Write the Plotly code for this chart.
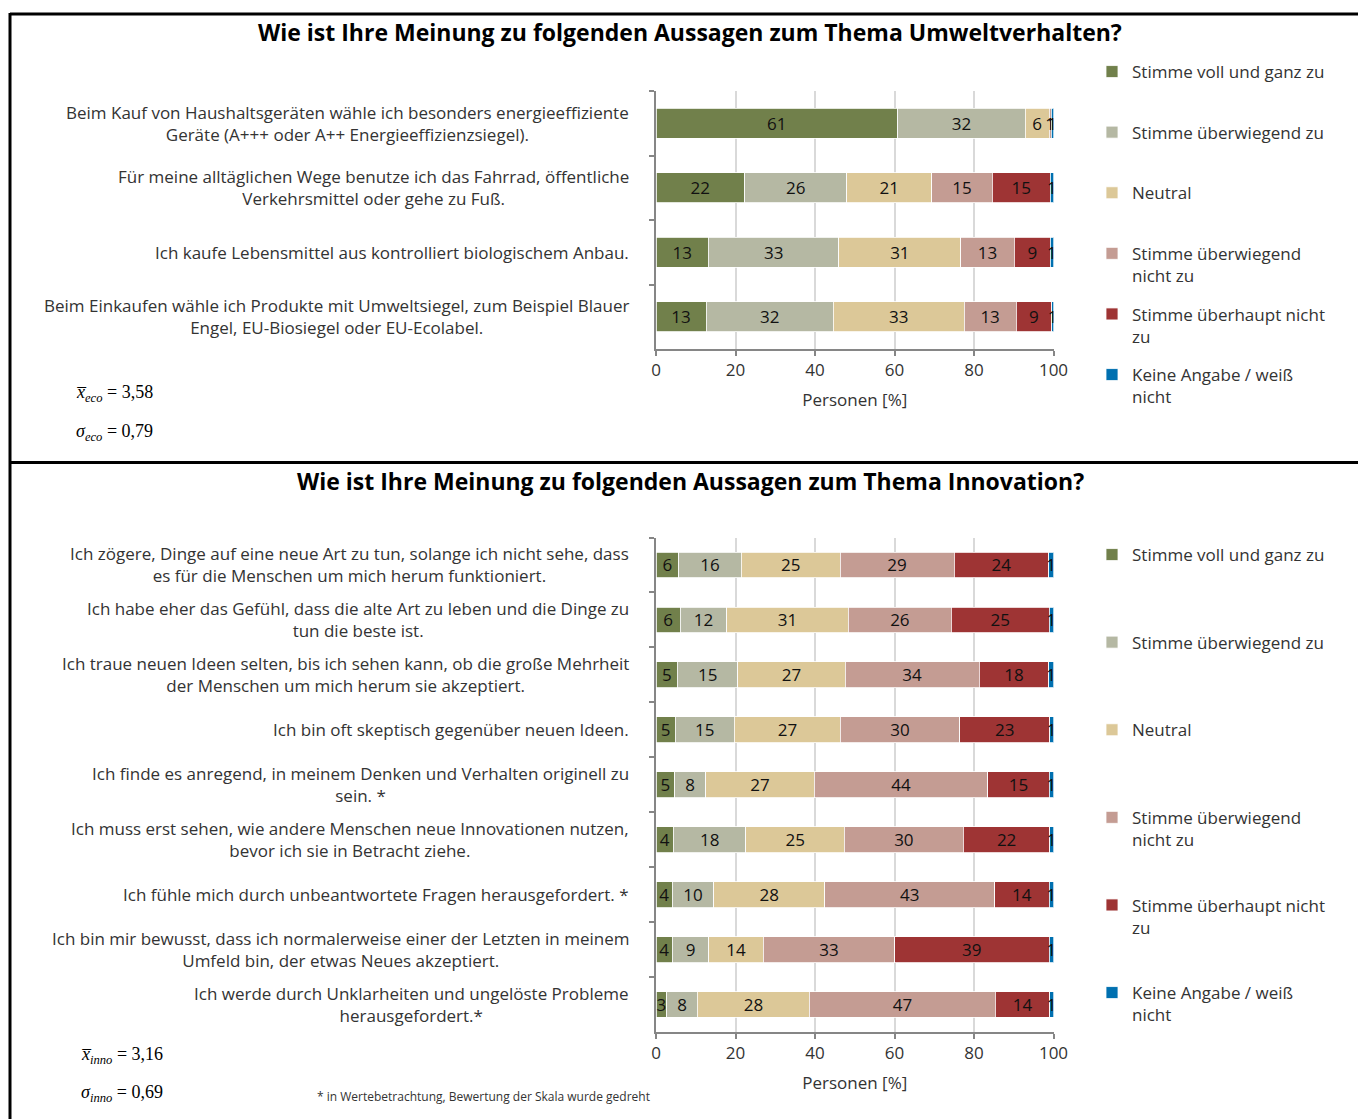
import plotly.graph_objects as go

W, H = 1358, 1119

# ---------------- data ----------------
series_names = [
    "Stimme voll und ganz zu",
    "Stimme überwiegend zu",
    "Neutral",
    "Stimme überwiegend<br>nicht zu",
    "Stimme überhaupt nicht<br>zu",
    "Keine Angabe / weiß<br>nicht",
]
series_colors = ["#71804b", "#b5b8a3", "#dcc898", "#c49c93", "#9e3434", "#0070b0"]

env_categories = [
    "Beim Kauf von Haushaltsgeräten wähle ich besonders energieeffiziente<br>Geräte (A+++ oder A++ Energieeffizienzsiegel).",
    "Für meine alltäglichen Wege benutze ich das Fahrrad, öffentliche<br>Verkehrsmittel oder gehe zu Fuß.",
    "Ich kaufe Lebensmittel aus kontrolliert biologischem Anbau.",
    "Beim Einkaufen wähle ich Produkte mit Umweltsiegel, zum Beispiel Blauer<br>Engel, EU-Biosiegel oder EU-Ecolabel.",
]
env_voll = [60.8, 22.3, 13.2, 12.6]
env_ueberwiegend = [32.1, 25.7, 32.8, 32.0]
env_neutral = [6.0, 21.4, 30.7, 32.9]
env_ueberwiegend_nicht = [0.5, 15.2, 13.4, 13.1]
env_ueberhaupt_nicht = [0.0, 14.6, 9.1, 8.9]
env_keine_angabe = [0.6, 0.8, 0.8, 0.5]

inno_categories = [
    "Ich zögere, Dinge auf eine neue Art zu tun, solange ich nicht sehe, dass<br>es für die Menschen um mich herum funktioniert.",
    "Ich habe eher das Gefühl, dass die alte Art zu leben und die Dinge zu<br>tun die beste ist.",
    "Ich traue neuen Ideen selten, bis ich sehen kann, ob die große Mehrheit<br>der Menschen um mich herum sie akzeptiert.",
    "Ich bin oft skeptisch gegenüber neuen Ideen.",
    "Ich finde es anregend, in meinem Denken und Verhalten originell zu<br>sein. *",
    "Ich muss erst sehen, wie andere Menschen neue Innovationen nutzen,<br>bevor ich sie in Betracht ziehe.",
    "Ich fühle mich durch unbeantwortete Fragen herausgefordert. *",
    "Ich bin mir bewusst, dass ich normalerweise einer der Letzten in meinem<br>Umfeld bin, der etwas Neues akzeptiert.",
    "Ich werde durch Unklarheiten und ungelöste Probleme<br>herausgefordert.*",
]
inno_voll = [5.7, 6.1, 5.4, 4.8, 4.7, 4.4, 4.1, 4.1, 2.7]
inno_ueberwiegend = [15.8, 11.7, 15.2, 14.9, 7.8, 18.2, 10.4, 9.2, 7.7]
inno_neutral = [24.8, 30.6, 27.0, 26.7, 27.3, 24.8, 28.0, 13.7, 28.2]
inno_ueberwiegend_nicht = [28.7, 25.9, 33.7, 30.0, 43.7, 29.9, 42.7, 33.0, 46.8]
inno_ueberhaupt_nicht = [23.8, 24.6, 17.5, 22.7, 15.4, 21.8, 13.7, 38.9, 13.7]
inno_keine_angabe = [1.2, 1.1, 1.2, 0.9, 1.1, 0.9, 1.1, 1.1, 0.9]

x_ticks = [0, 20, 40, 60, 80, 100]
x_title = "Personen [%]"
title_env = "Wie ist Ihre Meinung zu folgenden Aussagen zum Thema Umweltverhalten?"
title_inno = "Wie ist Ihre Meinung zu folgenden Aussagen zum Thema Innovation?"
stats_env = ["3,58", "0,79"]
stats_inno = ["3,16", "0,69"]
footnote = "* in Wertebetrachtung, Bewertung der Skala wurde gedreht"

env_series = [env_voll, env_ueberwiegend, env_neutral, env_ueberwiegend_nicht,
              env_ueberhaupt_nicht, env_keine_angabe]
inno_series = [inno_voll, inno_ueberwiegend, inno_neutral, inno_ueberwiegend_nicht,
               inno_ueberhaupt_nicht, inno_keine_angabe]

# ---------------- helpers ----------------
FONT = "Open Sans"
TXT = "#333333"
FS = 17


def px_x(p):
    return p / W


def px_y(p):
    return (H - p) / H


def labels(vals):
    return [str(int(v + 0.5)) if v >= 0.5 else "" for v in vals]


fig = go.Figure()

for i, name in enumerate(series_names):
    legend_name = name if "<br>" in name else name + "<br>\u00a0"
    fig.add_trace(go.Bar(
        x=env_series[i], y=env_categories, orientation="h",
        xaxis="x", yaxis="y", name=legend_name,
        marker=dict(color=series_colors[i], line=dict(color="white", width=0.8)),
        text=labels(env_series[i]), textposition="inside", textangle=0,
        insidetextanchor="middle",
        textfont=dict(family=FONT, size=FS, color="#111111"),
        legend="legend", legendgroup="env%d" % i, showlegend=True,
        hoverinfo="x+y",
    ))
for i, name in enumerate(series_names):
    legend_name = name if "<br>" in name else name + "<br>\u00a0"
    fig.add_trace(go.Bar(
        x=inno_series[i], y=inno_categories, orientation="h",
        xaxis="x2", yaxis="y2", name=legend_name,
        marker=dict(color=series_colors[i], line=dict(color="white", width=0.8)),
        text=labels(inno_series[i]), textposition="inside", textangle=0,
        insidetextanchor="middle",
        textfont=dict(family=FONT, size=FS, color="#111111"),
        legend="legend2", legendgroup="inno%d" % i, showlegend=True,
        hoverinfo="x+y",
    ))

x_dom = [px_x(656), px_x(1053.5)]
top_dom = [px_y(349), px_y(91)]
bot_dom = [px_y(1032), px_y(537.5)]

xaxis_common = dict(
    range=[0, 100], tickvals=x_ticks, ticks="outside", ticklen=5,
    tickcolor="#868686", tickwidth=1.5, showline=True, linecolor="#868686",
    linewidth=1.5, showgrid=True, gridcolor="#d9d9d9", gridwidth=2,
    zeroline=False, tickfont=dict(family=FONT, size=FS, color=TXT),
    title=dict(text=x_title, font=dict(family=FONT, size=FS, color=TXT), standoff=14),
    fixedrange=True,
)
yaxis_common = dict(
    autorange="reversed", type="category", showticklabels=False,
    ticks="outside", ticklen=5, tickcolor="#868686", tickwidth=1.5,
    tickson="boundaries", showline=True, linecolor="#868686", linewidth=1.5,
    showgrid=False, fixedrange=True,
)

fig.update_layout(
    autosize=True, margin=dict(l=0, r=0, t=0, b=0, autoexpand=False),
    paper_bgcolor="white", plot_bgcolor="white",
    barmode="stack", bargap=0.53,
    uniformtext=dict(minsize=FS, mode="show"),
    xaxis=dict(domain=x_dom, anchor="y", **xaxis_common),
    yaxis=dict(domain=top_dom, anchor="x", **yaxis_common),
    xaxis2=dict(domain=x_dom, anchor="y2", **xaxis_common),
    yaxis2=dict(domain=bot_dom, anchor="x2", **yaxis_common),
    legend=dict(
        x=px_x(1092), y=px_y(54), xanchor="left", yanchor="top",
        traceorder="grouped", tracegroupgap=13.4, valign="top",
        font=dict(family=FONT, size=FS, color=TXT), bgcolor="rgba(0,0,0,0)",
    ),
    legend2=dict(
        x=px_x(1092), y=px_y(537), xanchor="left", yanchor="top",
        traceorder="grouped", tracegroupgap=40.4, valign="top",
        font=dict(family=FONT, size=FS, color=TXT), bgcolor="rgba(0,0,0,0)",
    ),
    hovermode="closest",
)

annotations = []
# category labels, centred lines, right edge 25px left of the axis
for cat in env_categories:
    annotations.append(dict(
        text=cat, x=px_x(631), xref="paper", xanchor="right", y=cat, yref="y",
        yanchor="middle", align="center", showarrow=False,
        font=dict(family=FONT, size=FS, color=TXT),
    ))
for cat in inno_categories:
    annotations.append(dict(
        text=cat, x=px_x(631), xref="paper", xanchor="right", y=cat, yref="y2",
        yanchor="middle", align="center", showarrow=False,
        font=dict(family=FONT, size=FS, color=TXT),
    ))

# titles
annotations.append(dict(text="<b>%s</b>" % title_env, x=px_x(690), y=px_y(32),
                        xref="paper", yref="paper", xanchor="center", yanchor="middle",
                        showarrow=False, font=dict(family=FONT, size=23, color="black")))
annotations.append(dict(text="<b>%s</b>" % title_inno, x=px_x(690), y=px_y(481),
                        xref="paper", yref="paper", xanchor="center", yanchor="middle",
                        showarrow=False, font=dict(family=FONT, size=23, color="black")))

SERIF = "Liberation Serif"
def stat(text, x, y):
    return dict(text=text, x=px_x(x), y=px_y(y), xref="paper", yref="paper",
                xanchor="left", yanchor="middle", showarrow=False,
                font=dict(family=SERIF, size=18, color="black"))

annotations.append(stat("<i>x\u0305</i><sub><i>eco</i></sub> = " + stats_env[0], 74, 393))
annotations.append(stat("<i>σ</i><sub><i>eco</i></sub> = " + stats_env[1], 74, 432))
annotations.append(stat("<i>x\u0305</i><sub><i>inno</i></sub> = " + stats_inno[0], 79, 1055))
annotations.append(stat("<i>σ</i><sub><i>inno</i></sub> = " + stats_inno[1], 79, 1093))
annotations.append(dict(text=footnote, x=px_x(315), y=px_y(1096), xref="paper", yref="paper",
                        xanchor="left", yanchor="middle", showarrow=False,
                        font=dict(family=FONT, size=12, color=TXT)))

fig.update_layout(annotations=annotations)

# frame lines
shapes = [
    dict(type="line", xref="paper", yref="paper", x0=px_x(10), x1=1, y0=px_y(14), y1=px_y(14),
         line=dict(color="black", width=3)),
    dict(type="line", xref="paper", yref="paper", x0=px_x(10), x1=px_x(10), y0=px_y(13), y1=0,
         line=dict(color="black", width=3)),
    dict(type="line", xref="paper", yref="paper", x0=px_x(10), x1=1, y0=px_y(462.5), y1=px_y(462.5),
         line=dict(color="black", width=3)),
]
fig.update_layout(shapes=shapes)

fig.write_html("out.html", default_width="100%", default_height="100%")
